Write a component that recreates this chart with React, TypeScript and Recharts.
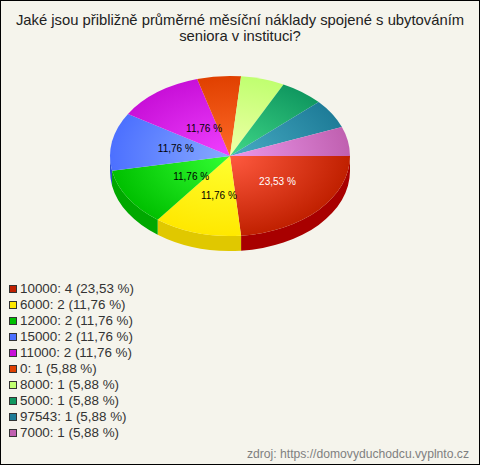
import React from 'react';
import { PieChart, Pie, Legend } from 'recharts';

const categories = ['10000', '6000', '12000', '15000', '11000', '0', '8000', '5000', '97543', '7000'];
const counts = [4, 2, 2, 2, 2, 1, 1, 1, 1, 1];
const percents = ['23,53', '11,76', '11,76', '11,76', '11,76', '5,88', '5,88', '5,88', '5,88', '5,88'];

const baseColors = ['#c02000', '#ffe800', '#00c000', '#4c70ff', '#c810d8', '#e04000', '#c0ff70', '#109860', '#1e7c98', '#c060b0'];
const lightColors = ['#ff5a40', '#ffff30', '#33ff33', '#88aaff', '#f040ff', '#ff6a28', '#f0ffa8', '#40d888', '#48acc4', '#ec98ec'];
const wallColors = ['#a80000', '#e0c800', '#00a800', '#2c50d0', '#a800b8', '#c02000', '#a0e050', '#007840', '#005c78', '#a04090'];
// small nudges so the inside labels land where the reference has them
const labelNudge = [[12, 0], [2, 3], [2, 1], [-7, -1], [3, 3]];

const chartData = categories.map((name, i) => ({ name, value: counts[i], idx: i }));

const CX = 230;
const CY = 156;
const RX = 120;
const RY = 80;
const DEPTH = 15;
const FONT = '"Liberation Sans", Arial, sans-serif';

const pt = (deg: number, dy = 0) => {
  const r = (deg * Math.PI) / 180;
  return `${(CX + RX * Math.cos(r)).toFixed(2)} ${(CY + dy + RY * Math.sin(r)).toFixed(2)}`;
};

const TopSlice = (props: any) => {
  const t0 = -props.startAngle;
  const t1 = -props.endAngle;
  const i = props.idx ?? props.payload?.idx;
  const large = t1 - t0 > 180 ? 1 : 0;
  const id = `slice-${i}`;
  return (
    <g>
      <defs>
        <radialGradient
          id={id}
          gradientUnits="userSpaceOnUse"
          cx={0}
          cy={0}
          r={1}
          gradientTransform={`translate(${CX} ${CY}) scale(${RX} ${RY})`}
        >
          <stop offset="0%" stopColor={lightColors[i]} />
          <stop offset="100%" stopColor={baseColors[i]} />
        </radialGradient>
      </defs>
      <path d={`M ${CX} ${CY} L ${pt(t0)} A ${RX} ${RY} 0 ${large} 1 ${pt(t1)} Z`} fill={`url(#${id})`} />
    </g>
  );
};

const WallSlice = (props: any) => {
  const t0 = Math.max(-props.startAngle, 0);
  const t1 = Math.min(-props.endAngle, 180);
  const i = props.idx ?? props.payload?.idx;
  if (t1 <= t0) return <g />;
  return (
    <path
      d={`M ${pt(t0)} A ${RX} ${RY} 0 0 1 ${pt(t1)} L ${pt(t1, DEPTH)} A ${RX} ${RY} 0 0 0 ${pt(t0, DEPTH)} Z`}
      fill={wallColors[i]}
    />
  );
};

const renderLabel = (props: any) => {
  const i = props.idx ?? props.payload?.idx;
  if (i >= labelNudge.length) return null;
  const r = (props.midAngle * Math.PI) / 180;
  const x = CX + RX * 0.4 * Math.cos(r) + labelNudge[i][0];
  const y = CY - RY * 0.47 * Math.sin(r) + labelNudge[i][1];
  return (
    <text x={x} y={y} textAnchor="middle" dominantBaseline="central" fontSize={10} fontFamily={FONT} fill={i === 0 ? '#fff' : '#000'}>
      {percents[i]} %
    </text>
  );
};

const LegendList = () => (
  <div style={{ fontFamily: FONT, fontSize: 13.4, color: '#333' }}>
    {categories.map((c, i) => (
      <div key={c} style={{ height: 16, lineHeight: '16px', display: 'flex', alignItems: 'center', whiteSpace: 'nowrap' }}>
        <span style={{ width: 6, height: 6, margin: '0 3px 0 0', background: baseColors[i], border: '1px solid #333', display: 'inline-block' }} />
        {c}: {counts[i]} ({percents[i]} %)
      </div>
    ))}
  </div>
);

export default function App() {
  return (
    <div style={{ position: 'absolute', left: 0, top: 0, width: 480, height: 465, background: '#f5f4ec', outline: '1px solid #000', outlineOffset: -1, overflow: 'hidden' }}>
      <PieChart width={480} height={465} margin={{ top: 0, right: 0, bottom: 0, left: 0 }}>
        <Pie data={chartData} dataKey="value" nameKey="name" cx={CX} cy={CY} outerRadius={RX} startAngle={0} endAngle={-360} stroke="none" legendType="none" shape={WallSlice} isAnimationActive={false} />
        <Pie data={chartData} dataKey="value" nameKey="name" cx={CX} cy={CY} outerRadius={RX} startAngle={0} endAngle={-360} stroke="none" shape={TopSlice} label={renderLabel} labelLine={false} isAnimationActive={false} />
        <Legend content={<LegendList />} layout="vertical" wrapperStyle={{ position: 'absolute', left: 9, top: 281, width: 200, bottom: 'auto' }} />
      </PieChart>
      <div style={{ position: 'absolute', left: 0, top: 12, width: 480, textAlign: 'center', fontFamily: FONT, fontSize: 14.8, lineHeight: '16px', color: '#222' }}>
        Jaké jsou přibližně průměrné měsíční náklady spojené s ubytováním
        <br />
        seniora v instituci?
      </div>
      <div style={{ position: 'absolute', right: 11, top: 447, fontFamily: FONT, fontSize: 12.15, lineHeight: '14px', color: '#808080' }}>
        zdroj: https://domovyduchodcu.vyplnto.cz
      </div>
    </div>
  );
}
